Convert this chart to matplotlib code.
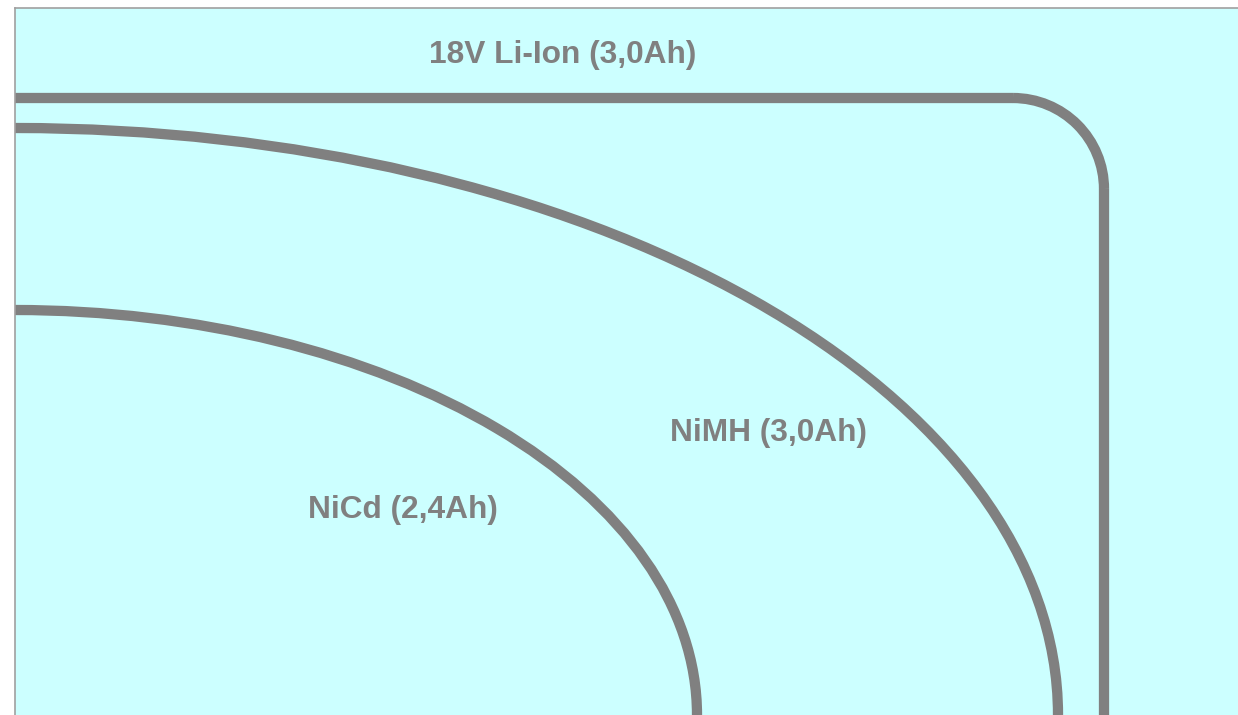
import matplotlib
matplotlib.use("Agg")
import matplotlib.pyplot as plt
from matplotlib.patches import Arc

# values, in panel pixel units (y grows downward)
labels = ["18V Li-Ion (3,0Ah)", "NiMH (3,0Ah)", "NiCd (2,4Ah)"]
start_y = [98, 128, 310]      # level where each curve leaves the left edge
end_x = [1104, 1058, 697]     # where each curve runs into the bottom edge
liion_corner = 91             # rounded corner of the Li-Ion curve

label_x = [563, 769, 403]
label_y = [63.5, 441.5, 518]

x0, y0 = 15, 715              # bottom-left corner of the panel
grey = "#808080"
lw = 7.4

fig = plt.figure(figsize=(12.38, 7.15), dpi=100)
fig.patch.set_facecolor("white")
ax = fig.add_axes([15 / 1238, 0, 1 - 15 / 1238, 707 / 715])
ax.set_facecolor("#CCFFFF")
ax.set_xlim(15, 1238)
ax.set_ylim(715, 8)
ax.set_xticks([])
ax.set_yticks([])
for side in ["right", "bottom"]:
    ax.spines[side].set_visible(False)
for side in ["left", "top"]:
    ax.spines[side].set_color("#a0a0a0")
    ax.spines[side].set_linewidth(1.2)

# Li-Ion: flat line, rounded corner, then straight down
cx = end_x[0] - liion_corner
cy = start_y[0] + liion_corner
ax.plot([x0, cx], [start_y[0], start_y[0]], color=grey, lw=lw, solid_capstyle="butt")
ax.add_patch(Arc((cx, cy), 2 * liion_corner, 2 * liion_corner, theta1=270, theta2=360,
                 color=grey, lw=lw))
ax.plot([end_x[0], end_x[0]], [cy, y0], color=grey, lw=lw, solid_capstyle="butt")

# NiMH and NiCd: quarter ellipses around the bottom-left corner
for sy, ex in zip(start_y[1:], end_x[1:]):
    ax.add_patch(Arc((x0, y0), 2 * (ex - x0), 2 * (y0 - sy), theta1=270, theta2=360,
                     color=grey, lw=lw))

for t, x, y in zip(labels, label_x, label_y):
    ax.text(x, y, t, ha="center", va="baseline", color=grey,
            fontsize=22.8, fontweight="bold", family=["Liberation Sans", "DejaVu Sans"])

fig.savefig("out.png", dpi=100, facecolor="white")
